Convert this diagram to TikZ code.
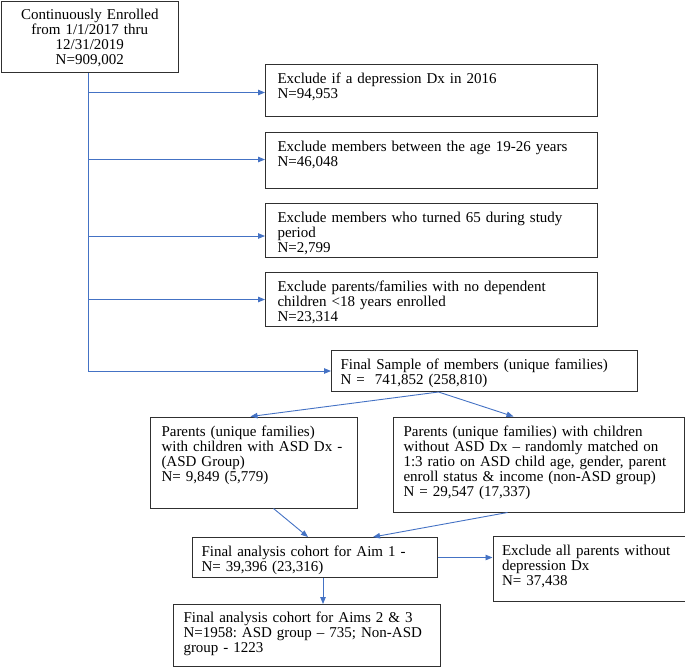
\documentclass[tikz,border=0pt]{standalone}
\usepackage{fontspec}
\setmainfont{Liberation Serif}
\usetikzlibrary{arrows.meta,calc}
\definecolor{arrblue}{HTML}{4472C4}
\definecolor{framecol}{HTML}{303030}
\newcommand\flowfont{\fontsize{15}{15}\selectfont\frenchspacing}
\begin{document}
\begin{tikzpicture}[x=1pt,y=-1pt,
  box/.style={draw=framecol, line width=1pt, anchor=north west, inner ysep=0pt,
    text height=19pt, align=left, font=\flowfont},
  arr/.style={draw=arrblue, line width=0.9pt, -{Triangle[length=7pt,width=5.5pt]}}]
\useasboundingbox (0,0) rectangle (685,667);

\node[box, align=center, inner xsep=4pt, text width=169.5pt, text height=18.5pt, text depth=53pt] (start) at (0.5,0.5)
  {Continuously Enrolled\\from 1/1/2017 thru\\12/31/2019\\N=909,002};

\node[box, inner xsep=12pt, text width=308pt, text depth=33pt] (ex1) at (265,64)
  {Exclude if a depression Dx in 2016\\N=94,953};
\node[box, inner xsep=12pt, text width=308pt, text depth=37pt] (ex2) at (265,132)
  {Exclude members between the age 19-26 years\\N=46,048};
\node[box, inner xsep=12pt, text width=308pt, text depth=35pt] (ex3) at (265,203)
  {Exclude members who turned 65 during study\\period\\N=2,799};
\node[box, inner xsep=12pt, text width=308pt, text depth=35pt] (ex4) at (265,272)
  {Exclude parents/families with no dependent\\children <18 years enrolled\\N=23,314};

\node[box, inner xsep=9pt, text width=288pt, text depth=22pt] (final) at (331,350)
  {Final Sample of members (unique families)\\N = \ 741,852 (258,810)};

\node[box, inner xsep=11pt, text width=185pt, text depth=72pt] (asd) at (150,416.5)
  {Parents (unique families)\\with children with ASD Dx -\\(ASD Group)\\N= 9,849 (5,779)};
\node[box, inner xsep=10pt, text width=271pt, text depth=76pt] (nonasd) at (393,416.5)
  {Parents (unique families) with children\\without ASD Dx -- randomly matched on\\1:3 ratio on ASD child age, gender, parent\\enroll status \& income (non-ASD group)\\N = 29,547 (17,337)};

\node[box, inner xsep=9pt, text width=227pt, text depth=21pt] (aim1) at (192,537)
  {Final analysis cohort for Aim 1 -\\N= 39,396 (23,316)};
\node[box, inner xsep=9pt, text width=174pt, text depth=45.5pt] (excl) at (492.5,536)
  {Exclude all parents without\\depression Dx\\N= 37,438};
\node[box, inner xsep=10pt, text width=247pt, text height=18pt, text depth=44pt] (aims) at (173,604)
  {Final analysis cohort for Aims 2 \& 3\\N=1958: ASD group -- 735; Non-ASD\\group - 1223};

% trunk and exclusion arrows
\coordinate (trunk) at ([xshift=-1pt]start.south);
\coordinate (e1) at ([yshift=-2pt]ex1.west);
\coordinate (e2) at ([yshift=1pt]ex2.west);
\coordinate (e3) at ([yshift=-5.5pt]ex3.west);
\coordinate (e4) at (ex4.west);
\draw[arr] (trunk) |- (final.west);
\draw[arr] (trunk |- e1) -- (e1);
\draw[arr] (trunk |- e2) -- (e2);
\draw[arr] (trunk |- e3) -- (e3);
\draw[arr] (trunk |- e4) -- (e4);

% split
\coordinate (fs) at ([xshift=-46pt]final.south);
\draw[arr] (fs) -- ([xshift=-3.5pt]asd.north);
\draw[arr] (fs) -- ([xshift=-25.5pt]nonasd.north);

% merge
\draw[arr] ([xshift=19.5pt]asd.south) -- ([xshift=-7pt]aim1.north);
\draw[arr] ([xshift=-31.5pt]nonasd.south) -- ([xshift=58pt]aim1.north);

% aim1 outputs
\draw[arr] (aim1.east) -- (aim1.east -| excl.west);
\coordinate (a1s) at ([xshift=8pt]aim1.south);
\draw[arr] (a1s) -- (a1s |- aims.north);
\end{tikzpicture}
\end{document}
